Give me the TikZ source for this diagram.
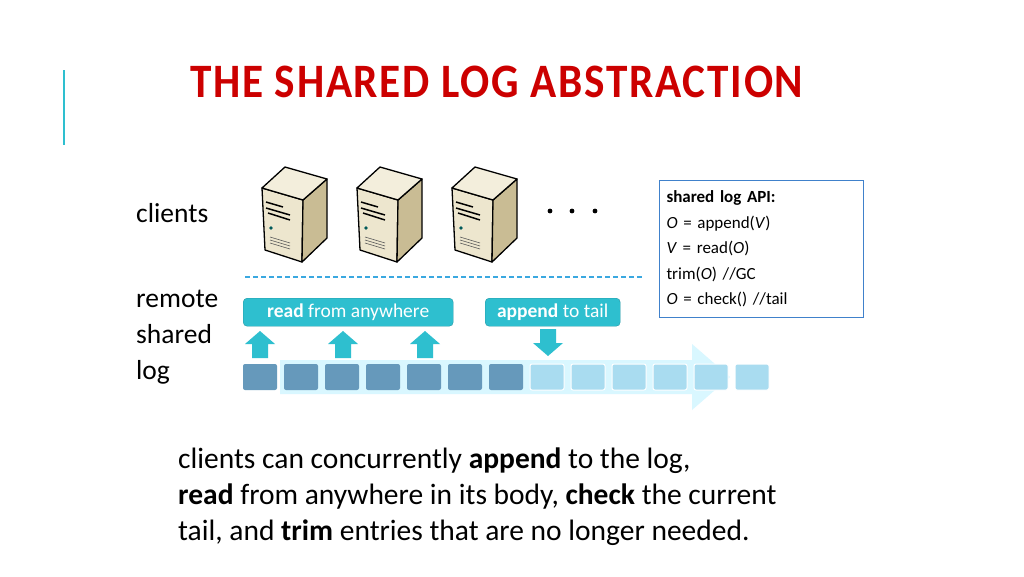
\documentclass[tikz,border=0pt]{standalone}
\usepackage{fontspec}
\setmainfont{Carlito}
\begin{document}
\begin{tikzpicture}[x=1pt,y=-1pt,
 box/.style={fill=cy, rounded corners=4pt, draw=cy!80!black, text=white, font=\fontsize{19.5}{22}\selectfont, inner sep=0},
 big/.style={font=\fontsize{27.5}{36}\selectfont}]
\definecolor{srvA}{HTML}{EDE6CE}\definecolor{srvB}{HTML}{C9BC94}\definecolor{srvT}{HTML}{F3EEDC}
\definecolor{dsq}{HTML}{6699BB}\definecolor{lsq}{HTML}{A9DCF0}\definecolor{cy}{HTML}{2EBFCF}
\definecolor{dashc}{HTML}{3AA8E0}
\fill[white] (0,0) rectangle (1024,576);
\useasboundingbox (0,0) rectangle (1024,576);
\draw[cy, line width=2pt] (64,70) -- (64,145);
\node[anchor=west, text=red!80!black, font=\fontsize{48}{50}\bfseries, inner sep=0] (title) at (190,82) {\scalebox{0.9}[1]{\addfontfeatures{LetterSpace=4}THE SHARED LOG ABSTRACTION}};
% servers
\foreach \cx/\n in {295/s1,390/s2,485/s3}{
 \begin{scope}[shift={(\cx-295,0)}]
 \filldraw[fill=srvA, draw=black, line width=1.3pt, line join=round] (262,188) -- (303,200) -- (302,262) -- (265,250) -- cycle;
 \filldraw[fill=srvB, draw=black, line width=1.3pt, line join=round] (303,200) -- (327,179) -- (327,238) -- (302,262) -- cycle;
 \filldraw[fill=srvT, draw=black, line width=1.3pt, line join=round] (262,188) -- (285,167) -- (327,179) -- (303,200) -- cycle;
 \draw[line width=1.5pt] (266,202) -- (283,207) (266,208) -- (290,215) (268,213) -- (290,220);
 \fill[teal!70!black] (271,228) circle (1.8);
 \draw[gray!70!black, line width=0.6pt] (270,237) -- (290,243) (270,240) -- (290,246) (270,243) -- (290,249);
 \end{scope}
 \coordinate (\n) at (\cx,215);
}
\foreach \x in {550,572,595} \fill (\x,211) circle (2.4);
\node[big, anchor=west, inner sep=0] (clients) at (136,213) {clients};
\node[big, anchor=north west, align=left, inner sep=0] (remote) at (136,290) {remote\\shared\\log};
\draw[dashc, line width=1.4pt, dash pattern=on 5pt off 3pt] (245,277) -- (642,277);
% api box
\node[draw=cyan!50!blue!80, line width=1pt, anchor=north west, minimum width=201, minimum height=137, align=left, text width=190, inner sep=7pt, font=\fontsize{17}{25.5}\selectfont] (api) at (659,180) {\textbf{shared log API:}\\\textit{O} = append(\textit{V})\\\textit{V} = read(\textit{O})\\trim(\textit{O}) //GC\\\textit{O} = check() //tail};
% log arrow
\fill[blue!20!cyan!15] (280,360) -- (692,360) -- (692,344) -- (730,377) -- (692,410) -- (692,394) -- (280,394) -- cycle;
\foreach \i in {0,...,6} \fill[dsq, rounded corners=2pt] (243+41*\i,364) rectangle +(34,26);
\foreach \i in {7,...,12} \filldraw[fill=lsq, draw=white, line width=1pt, rounded corners=2pt] (243+41*\i,364) rectangle +(34,26);
% boxes
\node[box, anchor=north west, minimum width=210, minimum height=28] (read) at (243,298) {\textbf{read} from anywhere};
\node[box, anchor=north west, minimum width=135, minimum height=28] (app) at (485,298) {\textbf{append} to tail};
\foreach \x in {260,343,425} \fill[cy] (\x,331) -- (\x+15,344) -- (\x+8,344) -- (\x+8,358) -- (\x-8,358) -- (\x-8,344) -- (\x-15,344) -- cycle;
\fill[cy] (548,356) -- (563,343) -- (556,343) -- (556,329) -- (540,329) -- (540,343) -- (533,343) -- cycle;
\node[anchor=north west, align=left, inner sep=0, font=\fontsize{29.5}{36}\selectfont] (desc) at (178,448) {clients can concurrently \textbf{append} to the log,\\\textbf{read} from anywhere in its body, \textbf{check} the current\\tail, and \textbf{trim} entries that are no longer needed.};
\end{tikzpicture}
\end{document}
